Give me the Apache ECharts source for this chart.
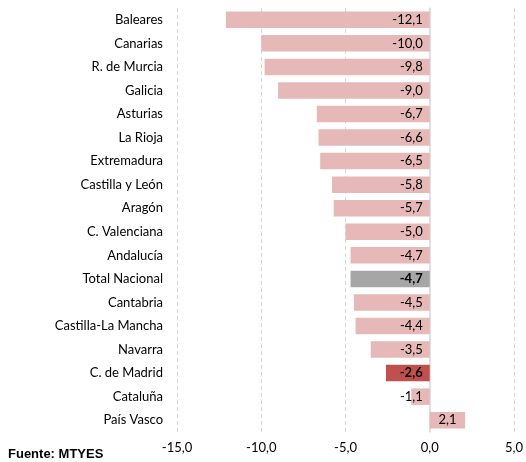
<!DOCTYPE html>
<html>
<head>
<meta charset="utf-8">
<script src="https://cdn.jsdelivr.net/npm/echarts@6/dist/echarts.min.js"></script>
<style>
    html, body { margin: 0; padding: 0; background: #fff; }
    #chart { width: 526px; height: 462px; }
</style>
</head>
<body>
<div id="chart"></div>
<script>
// datos
const regiones = ['Baleares', 'Canarias', 'R. de Murcia', 'Galicia', 'Asturias', 'La Rioja',
    'Extremadura', 'Castilla y León', 'Aragón', 'C. Valenciana', 'Andalucía', 'Total Nacional',
    'Cantabria', 'Castilla-La Mancha', 'Navarra', 'C. de Madrid', 'Cataluña', 'País Vasco'];
const valores = [-12.1, -10.0, -9.8, -9.0, -6.7, -6.6, -6.5, -5.8, -5.7, -5.0, -4.7, -4.7,
    -4.5, -4.4, -3.5, -2.6, -1.1, 2.1];
const ticksX = [-15, -10, -5, 0, 5];

const colorBase = '#E6B8B7';
const destacados = {
    'Total Nacional': '#A6A6A6',
    'C. de Madrid': '#C0504D'
};

function fmt(v) {
    return v.toFixed(1).replace('.', ',');
}

document.addEventListener("DOMContentLoaded", function () {
    let el = document.getElementById('chart');
    let chart = echarts.init(el);

    let datos = valores.map((v, i) => {
        let nombre = regiones[i];
        let esDest = destacados[nombre] !== undefined;
        return {
            value: v,
            itemStyle: { color: esDest ? destacados[nombre] : colorBase },
            label: {
                position: v < 0 ? 'insideRight' : 'inside',
                fontWeight: esDest ? 'bold' : 'normal'
            }
        };
    });

    chart.setOption({
        animation: false,
        textStyle: { fontFamily: 'Lato' },
        grid: { left: 177, right: 11, top: 8, bottom: 30 },
        xAxis: {
            type: 'value',
            min: ticksX[0],
            max: ticksX[ticksX.length - 1],
            interval: 5,
            axisLine: { show: false },
            axisTick: { show: false },
            axisLabel: {
                color: '#000',
                fontSize: 13,
                margin: 9,
                formatter: v => fmt(v)
            },
            splitLine: {
                show: true,
                lineStyle: { color: '#D9D9D9', type: [4, 3], width: 1 }
            }
        },
        yAxis: {
            type: 'category',
            data: regiones,
            inverse: true,
            axisLine: { show: true, onZero: true, lineStyle: { color: '#D9D9D9', width: 1.5 } },
            axisTick: { show: false },
            axisLabel: { color: '#000', fontSize: 13, margin: 14 }
        },
        series: [{
            type: 'bar',
            data: datos,
            barCategoryGap: '30%',
            label: {
                show: true,
                color: '#000',
                fontSize: 13,
                distance: 7,
                formatter: p => fmt(p.value)
            }
        }],
        graphic: [{
            type: 'text',
            left: 8,
            top: 448,
            style: {
                text: 'Fuente: MTYES',
                font: 'bold 13px "Liberation Sans"',
                fill: '#000'
            }
        }]
    });
});
</script>
</body>
</html>
